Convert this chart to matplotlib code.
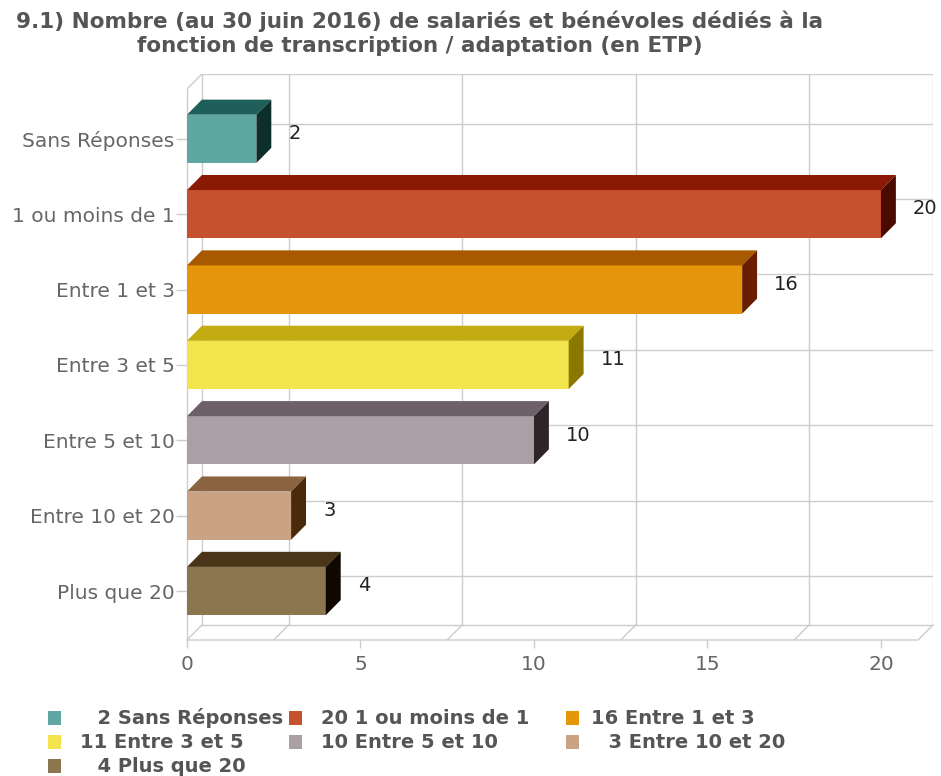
import matplotlib
matplotlib.use('Agg')
import matplotlib.pyplot as plt
from matplotlib.patches import Polygon, Rectangle

# données : nombre d'ETP par tranche
categories = ['Sans Réponses', '1 ou moins de 1', 'Entre 1 et 3', 'Entre 3 et 5',
              'Entre 5 et 10', 'Entre 10 et 20', 'Plus que 20']
values = [2, 20, 16, 11, 10, 3, 4]
xticks = [0, 5, 10, 15, 20]
grid_x = [2.5, 7.5, 12.5, 17.5]

# couleurs : face avant, dessus, côté
front_colors = ['#5fa8a2', '#c5512f', '#e6960a', '#f2e44c', '#ab9fa6', '#c9a384', '#8c7650']
top_colors = ['#1f5f5a', '#8a1a05', '#a85a00', '#c2ac12', '#6e6068', '#8a6440', '#4a3518']
side_colors = ['#0d2f2c', '#4a0a00', '#6a1e00', '#8a7800', '#2f2428', '#4a2a0a', '#100800']

title = ("9.1) Nombre (au 30 juin 2016) de salariés et bénévoles dédiés à la\n"
         "fonction de transcription / adaptation (en ETP)")

# géométrie de la pseudo-3D
X_MAX = 21.07
DX, DY = 0.43, 0.2
Y_TOP, Y_BOT = -0.66, 6.65
H = 0.32
GRID = '#cccccc'
TXT = '#666666'

W, Hpx = 941, 776
fig = plt.figure(figsize=(W / 100, Hpx / 100), dpi=100)
left, right, top, bottom = 187, 933, 74, 640
ax = fig.add_axes([left / W, 1 - bottom / Hpx, (right - left) / W, (bottom - top) / Hpx])
ax.set_xlim(0, X_MAX + DX)
ax.set_ylim(Y_BOT, Y_TOP - DY)
for s in ax.spines.values():
    s.set_visible(False)

# murs et grille
bt, bb = Y_TOP - DY, Y_BOT - DY
lw = 1.0
ax.plot([DX, X_MAX + DX, X_MAX + DX], [bt, bt, bb], color=GRID, lw=lw, zorder=1)
ax.plot([DX, DX], [bt, bb], color=GRID, lw=lw, zorder=1)
ax.plot([DX, X_MAX + DX], [bb, bb], color=GRID, lw=lw, zorder=1)
ax.plot([0, 0], [Y_TOP, Y_BOT], color=GRID, lw=lw, zorder=1, clip_on=False)
ax.plot([0, DX], [Y_TOP, bt], color=GRID, lw=lw, zorder=1)
ax.plot([0, DX], [Y_BOT, bb], color=GRID, lw=lw, zorder=1)
ax.plot([0, X_MAX, X_MAX + DX], [Y_BOT, Y_BOT, bb], color=GRID, lw=lw, zorder=1, clip_on=False)
for gx in grid_x:
    ax.plot([gx + DX, gx + DX], [bt, bb], color=GRID, lw=lw, zorder=1)
    ax.plot([gx, gx + DX], [Y_BOT, bb], color=GRID, lw=lw, zorder=1)
for i in range(len(categories)):
    ax.plot([DX, X_MAX + DX], [i - DY, i - DY], color=GRID, lw=lw, zorder=1)

# barres
ypos = list(range(len(categories)))
ax.barh(ypos, values, height=2 * H, left=0, color=front_colors, zorder=3)
for i, v in enumerate(values):
    t, b = i - H, i + H
    ax.add_patch(Polygon([(0, t), (v, t), (v + DX, t - DY), (DX, t - DY)],
                         closed=True, facecolor=top_colors[i], edgecolor='none', zorder=3))
    ax.add_patch(Polygon([(v, t), (v + DX, t - DY), (v + DX, b - DY), (v, b)],
                         closed=True, facecolor=side_colors[i], edgecolor='none', zorder=3))
    ax.text(v + 0.92, i - 0.07, str(v), ha='left', va='center', fontsize=14,
            color='#222222', zorder=4)

ax.set_xticks(xticks)
ax.set_xticklabels([str(x) for x in xticks])
ax.set_yticks(ypos)
ax.set_yticklabels(categories)
ax.tick_params(axis='x', colors=GRID, labelcolor=TXT, length=6, width=1, pad=5, labelsize=14.5)
ax.tick_params(axis='y', colors=GRID, labelcolor=TXT, length=8, width=1, pad=1, labelsize=14.5)

fig.text(420 / W, 1 - 10 / Hpx, title, ha='center', va='top', fontsize=15.5,
         fontweight='bold', color='#555555', linespacing=1.3)

# légende
col_x = [48, 289, 566]
txt_off = [32, 32, 25]
row_y = [718, 742, 766]
for i, (cat, v) in enumerate(zip(categories, values)):
    c, r = i % 3, i // 3
    x0, y0 = col_x[c], row_y[r]
    fig.patches.append(Rectangle((x0 / W, 1 - (y0 + 7) / Hpx), 13 / W, 14 / Hpx,
                                 transform=fig.transFigure, facecolor=front_colors[i],
                                 edgecolor='none'))
    label = ('\u2007\u2009' if v < 10 else '') + f'{v} {cat}'
    fig.text((x0 + txt_off[c]) / W, 1 - y0 / Hpx, label, ha='left', va='center',
             fontsize=14, fontweight='bold', color='#555555')

fig.savefig('out.png', dpi=100)
